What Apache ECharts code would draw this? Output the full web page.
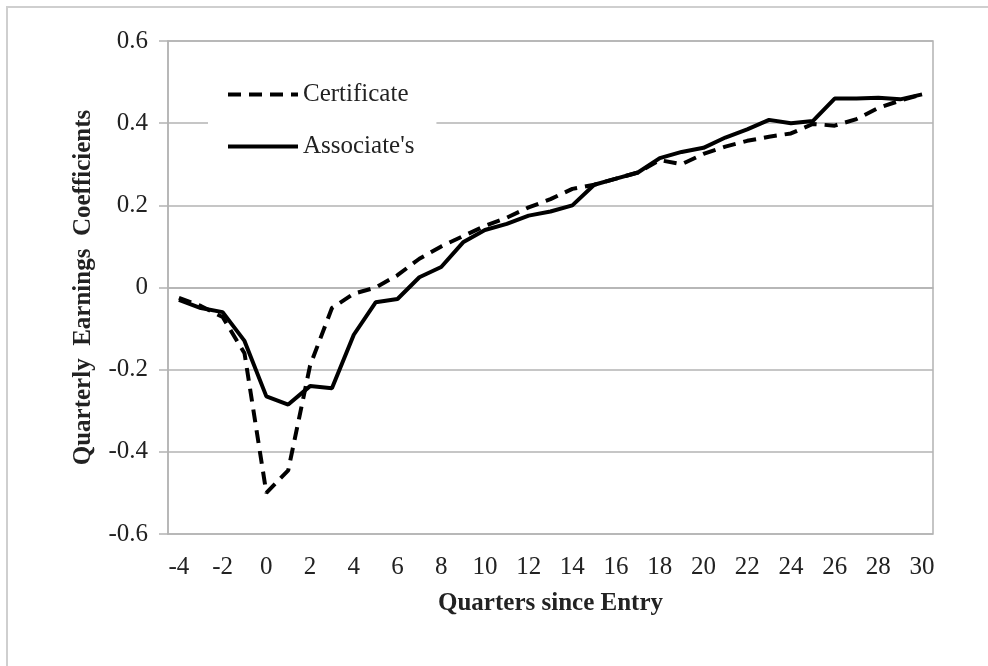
<!DOCTYPE html>
<html>
<head>
<meta charset="utf-8">
<script src="https://cdn.jsdelivr.net/npm/echarts@6/dist/echarts.min.js"></script>
<style>
  html, body { margin: 0; padding: 0; background: #fff; }
  #chart { width: 988px; height: 666px; }
</style>
</head>
<body>
<div id="chart"></div>
<script>
const quarters = ['-4', '-3', '-2', '-1', '0', '1', '2', '3', '4', '5', '6', '7', '8', '9', '10', '11', '12',
  '13', '14', '15', '16', '17', '18', '19', '20', '21', '22', '23', '24', '25', '26', '27', '28', '29', '30']

const certificate = [-0.025, -0.045, -0.072, -0.16, -0.50, -0.445, -0.19, -0.05, -0.015, 0.0, 0.03, 0.07,
  0.10, 0.125, 0.15, 0.17, 0.195, 0.215, 0.24, 0.25, 0.265, 0.28, 0.31, 0.30, 0.325, 0.343, 0.357,
  0.367, 0.375, 0.398, 0.394, 0.41, 0.437, 0.455, 0.47]

const associates = [-0.03, -0.05, -0.06, -0.13, -0.265, -0.285, -0.24, -0.245, -0.115, -0.036, -0.028,
  0.025, 0.05, 0.11, 0.14, 0.155, 0.175, 0.185, 0.2, 0.25, 0.265, 0.28, 0.315, 0.33, 0.34, 0.365, 0.385,
  0.408, 0.40, 0.405, 0.46, 0.46, 0.462, 0.458, 0.47]

const serif = 'Liberation Serif'
const gridColor = '#b3b3b3'
const textColor = '#222'

const chart = echarts.init(document.getElementById('chart'))

chart.setOption({
  animation: false,
  backgroundColor: '#fff',
  textStyle: { fontFamily: serif },
  graphic: [{
    type: 'polyline',
    shape: { points: [[7, 666], [7, 7], [988, 7]] },
    style: { stroke: '#cfcfcf', lineWidth: 2, fill: null },
  }],
  grid: {
    left: 168,
    right: 55,
    top: 41,
    bottom: 132,
    show: true,
    borderColor: gridColor,
    borderWidth: 1.5,
  },
  legend: {
    orient: 'vertical',
    left: 208,
    top: 70,
    padding: [12, 22, 12, 18],
    backgroundColor: '#fff',
    itemWidth: 70,
    itemHeight: 14,
    itemGap: 27,
    itemStyle: { opacity: 0 },
    lineStyle: { width: 4 },
    textStyle: { fontFamily: serif, fontSize: 25, color: textColor },
    data: ['Certificate', "Associate's"],
  },
  xAxis: {
    type: 'category',
    data: quarters,
    boundaryGap: true,
    name: 'Quarters since Entry',
    nameLocation: 'middle',
    nameGap: 57,
    nameTextStyle: { fontFamily: serif, fontSize: 25, fontWeight: 'bold', color: textColor },
    axisLine: { lineStyle: { color: gridColor, width: 1.5 } },
    axisTick: { show: false },
    axisLabel: { interval: 1, margin: 21, fontFamily: serif, fontSize: 25, color: textColor },
  },
  yAxis: {
    type: 'value',
    min: -0.6,
    max: 0.6,
    interval: 0.2,
    name: 'Quarterly  Earnings  Coefficients',
    nameLocation: 'middle',
    nameGap: 72,
    nameTextStyle: { fontFamily: serif, fontSize: 25, fontWeight: 'bold', color: textColor },
    axisLine: { show: true, lineStyle: { color: gridColor, width: 1.5 } },
    axisTick: { show: true, length: 9, lineStyle: { color: gridColor, width: 1.5 } },
    axisLabel: { margin: 20, fontFamily: serif, fontSize: 25, color: textColor },
    splitLine: { lineStyle: { color: gridColor, width: 1.5 } },
  },
  series: [
    {
      name: 'Certificate',
      type: 'line',
      data: certificate,
      symbol: 'none',
      lineStyle: { color: '#000', width: 4, type: [13, 8] },
      itemStyle: { color: '#000' },
    },
    {
      name: "Associate's",
      type: 'line',
      data: associates,
      symbol: 'none',
      lineStyle: { color: '#000', width: 4 },
      itemStyle: { color: '#000' },
    },
  ],
})
</script>
</body>
</html>
